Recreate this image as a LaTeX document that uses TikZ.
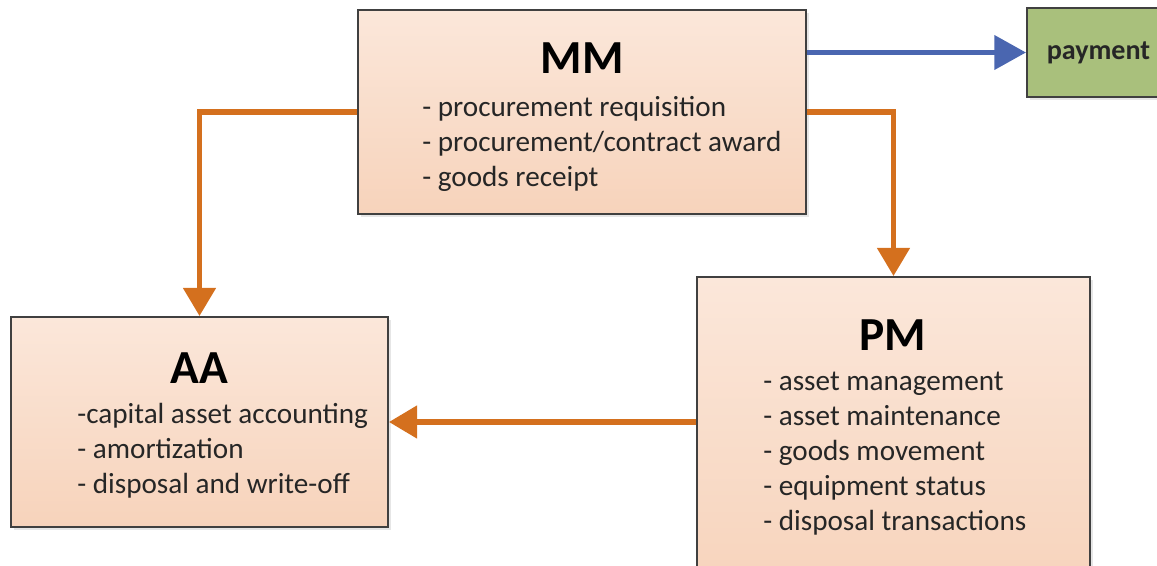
\documentclass[tikz,border=0pt]{standalone}
\usepackage{fontspec}
\setmainfont{Carlito}
\usetikzlibrary{arrows.meta,shadows}
\definecolor{boxtop}{HTML}{FBE7DA}
\definecolor{boxbottom}{HTML}{F7D3BB}
\definecolor{boxline}{HTML}{404040}
\definecolor{floworange}{HTML}{D4701E}
\definecolor{flowblue}{HTML}{4A66B0}
\definecolor{paygreen}{HTML}{A9C07C}

\tikzset{
  modbox/.style={draw=boxline, line width=1.1pt, top color=boxtop, bottom color=boxbottom,
    inner sep=0pt, drop shadow={opacity=0.2,shadow xshift=1.5pt,shadow yshift=-1.5pt}},
  modtitle/.style={font=\fontsize{27}{32}\selectfont\bfseries, anchor=base, inner sep=0pt},
  modlist/.style={font=\fontsize{16.6}{19.8}\selectfont, align=left, anchor=base west,
    inner sep=0pt, text=black!85},
  flow/.style={draw=floworange, line width=3.3pt, -{Triangle[width=18pt,length=16pt]}},
  payflow/.style={draw=flowblue, line width=3.3pt, -{Triangle[width=19pt,length=18pt]}}
}

\begin{document}
\begin{tikzpicture}[x=0.02cm,y=-0.02cm]

\useasboundingbox (0,0) rectangle (1157,565);

% Boxes
\node[modbox, minimum width=8.96cm, minimum height=4.08cm] (mm) at (582,112) {};
\node[modbox, minimum width=7.86cm, minimum height=6.46cm] (pm) at (893.5,438.5) {};
\node[modbox, minimum width=7.54cm, minimum height=4.2cm] (aa) at (199.5,422) {};
\node[draw=boxline, line width=1.1pt, fill=paygreen, minimum width=2.86cm, minimum height=1.78cm,
  drop shadow={opacity=0.2,shadow xshift=1.5pt,shadow yshift=-1.5pt},
  font=\fontsize{16}{19}\selectfont\bfseries, text=black!85] (pay) at (1098.5,52.5) {payment};

% Titles and lists (list anchored at its last baseline)
\node[modtitle] (mmtitle) at (582,73) {MM};
\node[modlist] (mmlist) at (422,186) {- procurement requisition\\- procurement/contract award\\- goods receipt};

\node[modtitle] (pmtitle) at (893,350) {PM};
\node[modlist] (pmlist) at (763,530) {- asset management\\- asset maintenance\\- goods movement\\- equipment status\\- disposal transactions};

\node[modtitle] (aatitle) at (199,383) {AA};
\node[modlist] (aalist) at (77,493) {-capital asset accounting\\- amortization\\- disposal and write-off};

% Arrows
\draw[flow] (mm.west) -| (aa.north);
\draw[flow] (mm.east) -| (pm.north);
\draw[flow] (pm.west |- aa.east) -- (aa.east);
\draw[payflow] (mm.east |- pay.west) -- (pay.west);

\end{tikzpicture}
\end{document}
